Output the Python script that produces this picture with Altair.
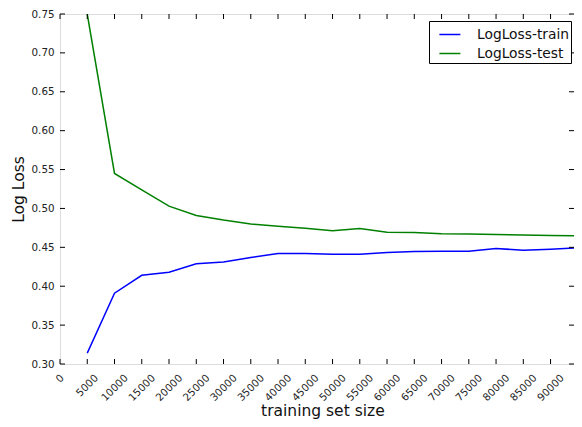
import altair as alt
import pandas as pd

# ---- data ----
train_size = [5000, 10000, 15000, 20000, 25000, 30000, 35000, 40000, 45000,
              50000, 55000, 60000, 65000, 70000, 75000, 80000, 85000, 90000, 94300]
logloss_train = [0.314, 0.391, 0.414, 0.418, 0.429, 0.431, 0.437, 0.442, 0.442,
                 0.441, 0.441, 0.4435, 0.4445, 0.445, 0.445, 0.4485, 0.4463, 0.4475, 0.449]
logloss_test = [0.750, 0.545, 0.524, 0.503, 0.491, 0.485, 0.480, 0.477, 0.4745,
                0.4712, 0.4742, 0.4695, 0.469, 0.4674, 0.467, 0.4665, 0.466, 0.4653, 0.465]
series_names = ["LogLoss-train", "LogLoss-test"]
series_colors = ["#0000ff", "#008000"]
x_ticks = list(range(0, 95000, 5000))
y_ticks = [0.30, 0.35, 0.40, 0.45, 0.50, 0.55, 0.60, 0.65, 0.70, 0.75]
x_domain = [0, 94300]
y_domain = [0.30, 0.75]

W, H = 514, 350
FONT = "DejaVu Sans"
TICK = 5

df = pd.concat([
    pd.DataFrame({"size": train_size, "loss": logloss_train, "series": series_names[0]}),
    pd.DataFrame({"size": train_size, "loss": logloss_test, "series": series_names[1]}),
])
xt = pd.DataFrame({"xt": x_ticks})
yt = pd.DataFrame({"yt": y_ticks})

xscale = alt.Scale(domain=x_domain, nice=False, zero=False)
yscale = alt.Scale(domain=y_domain, nice=False, zero=False)

x_axis = alt.Axis(values=x_ticks, format="d", labelAngle=315,
                  labelAlign="right", labelBaseline="middle",
                  labelPadding=12, labelOverlap=False,
                  labelOffset={"condition": [
                      {"test": "datum.value == 0", "value": 2},
                      {"test": "datum.value == 5000", "value": 9}],
                      "value": 11.5},
                  labelFontSize=10.3, labelColor="#222", tickSize=0,
                  domain=False, grid=False, labelFlush=False,
                  title="training set size", titleFontSize=15.5,
                  titleFontWeight="normal", titleColor="#111",
                  titleX=262.4, titleY=51, titleAlign="center",
                  titleBaseline="alphabetic")
y_axis = alt.Axis(values=y_ticks, format=".2f", labelFontSize=10.3,
                  labelColor="#222", tickSize=0, labelPadding=6,
                  labelOverlap=False,
                  domain=False, grid=False, labelFlush=False,
                  title="Log Loss", titleFontSize=15.5,
                  titleFontWeight="normal", titleColor="#111",
                  titleAngle=270, titleX=-37, titleY=H / 2,
                  titleAlign="center", titleBaseline="alphabetic")

lines = alt.Chart(df).mark_line(strokeWidth=1.5, clip=True).encode(
    x=alt.X("size:Q", scale=xscale, axis=x_axis),
    y=alt.Y("loss:Q", scale=yscale, axis=y_axis),
    color=alt.Color("series:N",
                    scale=alt.Scale(domain=series_names, range=series_colors),
                    legend=alt.Legend(title=None, orient="none", legendX=369,
                                      legendY=7, strokeColor="black",
                                      fillColor="white", padding=2,
                                      symbolType="stroke", symbolSize=441,
                                      symbolStrokeWidth=1.5, symbolOffset=7.4,
                                      labelFontSize=13.8,
                                      labelFont=FONT, labelColor="#111",
                                      labelOffset=15.6, rowPadding=0,
                                      cornerRadius=0)),
)

tick_style = dict(color="black", strokeWidth=1)
bottom_ticks = alt.Chart(xt).mark_rule(**tick_style).encode(
    x=alt.X("xt:Q", scale=xscale, axis=x_axis), y=alt.value(H), y2=alt.value(H - TICK))
top_ticks = alt.Chart(xt).mark_rule(**tick_style).encode(
    x=alt.X("xt:Q", scale=xscale, axis=x_axis), y=alt.value(0), y2=alt.value(TICK))
left_ticks = alt.Chart(yt).mark_rule(**tick_style).encode(
    y=alt.Y("yt:Q", scale=yscale, axis=y_axis), x=alt.value(0), x2=alt.value(TICK))
right_ticks = alt.Chart(yt).mark_rule(**tick_style).encode(
    y=alt.Y("yt:Q", scale=yscale, axis=y_axis), x=alt.value(W - TICK), x2=alt.value(W))

chart = alt.layer(lines, bottom_ticks, top_ticks, left_ticks, right_ticks).properties(
    width=W, height=H,
    autosize=alt.AutoSizeParams(type="none"),
    padding={"left": 52, "top": 6, "right": 0, "bottom": 55},
    background="white",
).configure_view(stroke="black", strokeWidth=1.5).configure(
    font=FONT
)

chart.save("out.html", embed_options={"renderer": "svg", "actions": False})
